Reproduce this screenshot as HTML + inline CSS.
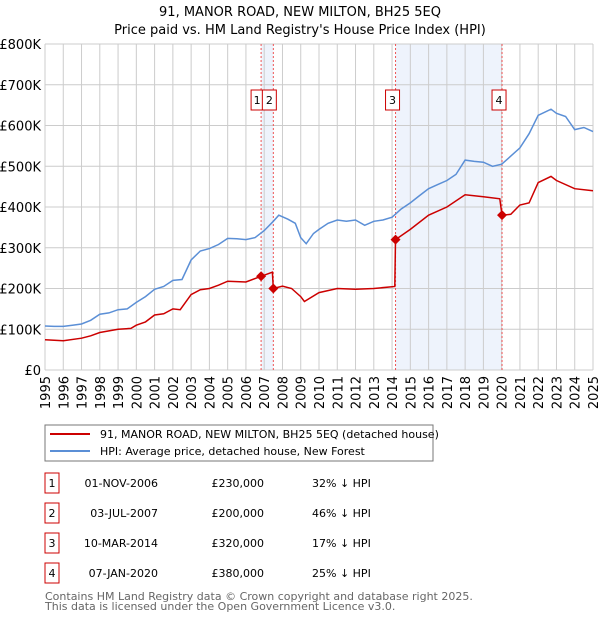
<!DOCTYPE html>
<html><head><meta charset="utf-8"><style>
body{margin:0;background:#fff;font-family:"DejaVu Sans","Liberation Sans",sans-serif;}
svg text{font-family:"DejaVu Sans","Liberation Sans",sans-serif;}
</style></head><body>
<svg id="c" width="600" height="620" xmlns="http://www.w3.org/2000/svg">
<text x="300" y="16" text-anchor="middle" font-size="13">91, MANOR ROAD, NEW MILTON, BH25 5EQ</text>
<text x="300" y="34" text-anchor="middle" font-size="13">Price paid vs. HM Land Registry's House Price Index (HPI)</text>
<g id="bands"></g><g id="grid"></g><g id="lines"></g><g id="series"></g><g id="marks"></g><g id="axes"></g>
<g>
<rect x="45" y="425" width="388" height="36" fill="#fff" stroke="#777"/>
<line x1="50" y1="434" x2="90" y2="434" stroke="#cc0000" stroke-width="2"/>
<text x="100" y="438" font-size="11">91, MANOR ROAD, NEW MILTON, BH25 5EQ (detached house)</text>
<line x1="50" y1="451" x2="90" y2="451" stroke="#5b8fd6" stroke-width="2"/>
<text x="100" y="455" font-size="11">HPI: Average price, detached house, New Forest</text>
</g>
<g id="table" font-size="11"></g>
<text x="45" y="600" font-size="11" fill="#666">Contains HM Land Registry data © Crown copyright and database right 2025.</text>
<text x="45" y="610" font-size="11" fill="#666">This data is licensed under the Open Government Licence v3.0.</text>
</svg>
<script>
const hpiYears=[1995,1995.5,1996,1996.5,1997,1997.5,1998,1998.5,1999,1999.5,2000,2000.5,2001,2001.5,2002,2002.5,2003,2003.5,2004,2004.5,2005,2005.5,2006,2006.5,2007,2007.5,2007.8,2008.3,2008.7,2009,2009.3,2009.7,2010,2010.5,2011,2011.5,2012,2012.5,2013,2013.5,2014,2014.5,2015,2015.5,2016,2016.5,2017,2017.5,2018,2018.5,2019,2019.5,2020,2020.5,2021,2021.5,2022,2022.7,2023,2023.5,2024,2024.5,2025];
const hpiValues=[108,107,107,110,113,122,137,140,148,150,166,180,198,205,220,222,270,292,298,308,323,322,320,325,342,365,380,370,360,325,310,335,345,360,368,365,368,355,365,368,375,395,410,428,445,455,465,480,515,512,510,500,505,525,545,580,625,640,630,622,590,595,585];
const ppYears=[1995,1996,1997,1997.5,1998,1999,1999.7,2000,2000.5,2001,2001.5,2002,2002.4,2003,2003.5,2004,2004.5,2005,2006,2006.83,2007.45,2007.5,2008,2008.5,2009,2009.2,2010,2011,2012,2013,2014.15,2014.19,2015,2016,2017,2018,2019,2019.9,2020.02,2020.5,2021,2021.5,2022,2022.7,2023,2024,2025];
const ppValues=[74,72,78,84,92,100,102,110,118,135,138,150,148,185,197,200,208,218,216,230,240,200,206,200,180,168,190,200,198,200,205,320,345,380,400,430,425,420,380,382,405,410,460,475,465,445,440];
const saleLabels=["1","2","3","4"];
const saleYears=[2006.83,2007.5,2014.19,2020.02];
const saleValues=[230,200,320,380];
const saleDates=["01-NOV-2006","03-JUL-2007","10-MAR-2014","07-JAN-2020"];
const salePrices=["£230,000","£200,000","£320,000","£380,000"];
const saleDiffs=["32% ↓ HPI","46% ↓ HPI","17% ↓ HPI","25% ↓ HPI"];
const yTicks=[0,100,200,300,400,500,600,700,800];
const yTickLabels=["£0","£100K","£200K","£300K","£400K","£500K","£600K","£700K","£800K"];
const xTicks=[1995,1996,1997,1998,1999,2000,2001,2002,2003,2004,2005,2006,2007,2008,2009,2010,2011,2012,2013,2014,2015,2016,2017,2018,2019,2020,2021,2022,2023,2024,2025];

const X0=45,X1=593,Y0=370,Y1=44;
const xs=y=>X0+(y-1995)/30*(X1-X0);
const ys=v=>Y0-v/800*(Y0-Y1);
const NS="http://www.w3.org/2000/svg";
function mk(t,a,p){const e=document.createElementNS(NS,t);for(const k in a)e.setAttribute(k,a[k]);p.appendChild(e);return e;}
const grid=document.getElementById('grid'),axes=document.getElementById('axes'),bands=document.getElementById('bands'),lines=document.getElementById('lines'),series=document.getElementById('series'),marks=document.getElementById('marks'),table=document.getElementById('table');
yTicks.forEach((v,i)=>{
 const l=mk('line',{x1:X0,x2:X1,y1:ys(v),y2:ys(v),stroke:'#ccc'},grid);
 
 
 const t=mk('text',{x:X0-4,y:ys(v)+5,'text-anchor':'end','font-size':'13'},axes);
 t.textContent=yTickLabels[i];
 
 
});
xTicks.forEach(y=>{
 const l=mk('line',{x1:xs(y),x2:xs(y),y1:Y1,y2:Y0,stroke:'#ccc'},grid);
 
 
 const t=mk('text',{x:0,y:0,'font-size':'13','text-anchor':'end',transform:`translate(${xs(y)+5},376) rotate(-90)`},axes);
 t.textContent=y;
 
 
});
[[0,1],[2,3]].forEach(([a,b])=>{
 const r=mk('rect',{x:xs(saleYears[a]),y:Y1,width:xs(saleYears[b])-xs(saleYears[a]),height:Y0-Y1,fill:'#eef3fc'},bands);
 
 
});
saleYears.forEach((y,i)=>{
 const l=mk('line',{x1:xs(y),x2:xs(y),y1:Y1,y2:Y0,stroke:'#e55','stroke-dasharray':'2,2'},lines);
 
 
});
function path(xa,va,col,name){
 const d=xa.map((y,i)=>(i?'L':'M')+xs(y).toFixed(1)+','+ys(va[i]).toFixed(1)).join('');
 const p=mk('path',{d:d,fill:'none',stroke:col,'stroke-width':'1.5'},series);
 
 
}
path(hpiYears,hpiValues,'#5b8fd6','hpi-line');
path(ppYears,ppValues,'#cc0000','price-paid-line');
saleYears.forEach((y,i)=>{
 const cx=xs(y),cy=ys(saleValues[i]);
 const d=mk('path',{d:`M${cx},${cy-5}L${cx+5},${cy}L${cx},${cy+5}L${cx-5},${cy}Z`,fill:'#cc0000'},marks);
 
 
 const g=mk('g',{},marks);
 
 
 const lx=i===0?cx-10:(i===1?cx-11:cx-10);
 mk('rect',{x:lx,y:90,width:i===0?12:14,height:20,fill:'#fff',stroke:'#cc0000'},g);
 const t=mk('text',{x:lx+(i===0?6:7),y:104,'text-anchor':'middle','font-size':'11'},g);
 t.textContent=saleLabels[i];
});
saleLabels.forEach((s,i)=>{
 const y=473+i*30;
 const g=mk('g',{},table);
 
 
 mk('rect',{x:45,y:y,width:14,height:20,fill:'#fff',stroke:'#cc0000'},g);
 const cells=[[52,s,'middle'],[158,saleDates[i],'end'],[264,salePrices[i],'end'],[312,saleDiffs[i],'start']];
 cells.forEach(c=>{const t=mk('text',{x:c[0],y:y+14,'text-anchor':c[2]},g);t.textContent=c[1];});
});
</script>
</body></html>
